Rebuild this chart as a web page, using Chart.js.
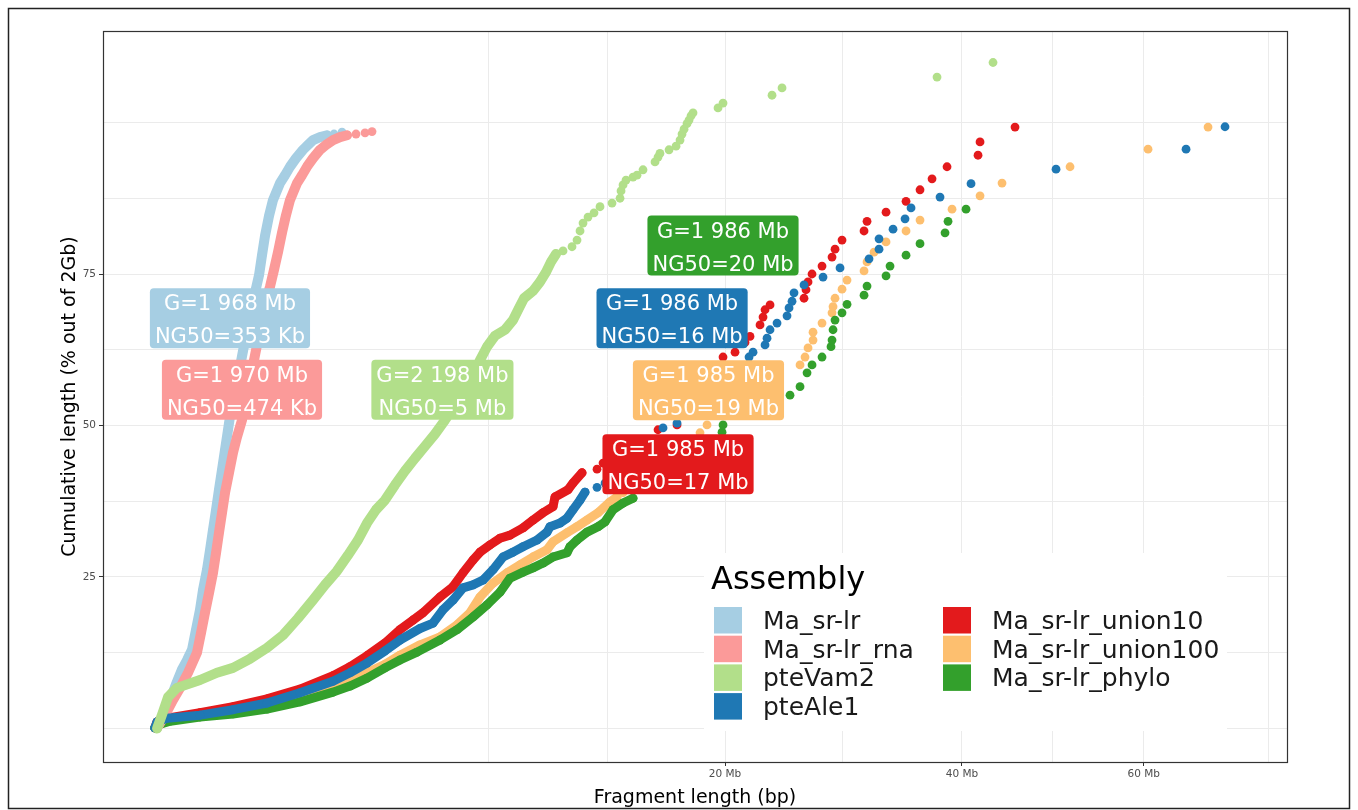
<!DOCTYPE html>
<html>
<head>
<meta charset="utf-8">
<title>Cumulative length by fragment length</title>
<script src="https://cdn.jsdelivr.net/npm/chart.js@4.4.1/dist/chart.umd.min.js"></script>
<style>
  html, body { margin: 0; padding: 0; background: #fff; }
  #wrap { position: relative; width: 1358px; height: 810px; }
</style>
</head>
<body>
<div id="wrap"><canvas id="cumulChart"></canvas></div>
<script>
// series names / colours, in legend order
const assemblies = ['Ma_sr-lr', 'Ma_sr-lr_rna', 'pteVam2', 'pteAle1', 'Ma_sr-lr_union10', 'Ma_sr-lr_union100', 'Ma_sr-lr_phylo'];
const colours = ['#a6cee3', '#fb9a99', '#b2df8a', '#1f78b4', '#e31a1c', '#fdbf6f', '#33a02c'];

// label text per assembly
const genomeSize = ['1 968 Mb', '1 970 Mb', '2 198 Mb', '1 986 Mb', '1 985 Mb', '1 985 Mb', '1 986 Mb'];
const ng50Text = ['353 Kb', '474 Kb', '5 Mb', '16 Mb', '17 Mb', '19 Mb', '20 Mb'];
// where the labels sit (Mb, % of 2Gb)
const labelMb = [0.362, 0.484, 5.12, 16.47, 16.85, 18.86, 19.86];
const labelPct = [67.7, 55.9, 55.9, 67.7, 43.6, 55.8, 79.7];

// axis breaks
const xTickMb = [20, 40, 60];
const xTickLabels = ['20 Mb', '40 Mb', '60 Mb'];
const xMinorMb = [6.9, 12.6, 29.1, 49.5, 76];
const yTickValues = [25, 50, 75];
const yGridValues = [0, 12.5, 25, 37.5, 50, 62.5, 75, 87.5, 100];

// [fragment length Mb, cumulative %] - dense runs ("Curve") and separate points ("Dots")
const maSrLrCurve = [[0.001,0.1],[0.005,1.7],[0.012,3.4],[0.022,5.5],[0.035,7.7],[0.051,9.7],[0.071,11.3],[0.093,13.0],[0.113,16.3],[0.135,19.6],[0.153,22.9],[0.178,26.2],[0.199,29.5],[0.220,32.8],[0.243,36.1],[0.266,39.4],[0.291,42.7],[0.317,46.0],[0.344,49.3],[0.372,52.6],[0.411,55.0],[0.452,58.8],[0.495,62.3],[0.540,65.6],[0.587,68.7],[0.636,71.9],[0.687,74.8],[0.726,78.1],[0.767,81.3],[0.823,84.6],[0.880,87.2],[0.986,90.0],[1.065,91.3],[1.147,92.7],[1.250,94.1],[1.376,95.5],[1.469,96.3],[1.565,97.1],[1.705,97.6],[1.851,97.9]];
const maSrLrDots = [[2.003,98.1],[2.184,98.4]];

const rnaCurve = [[0.001,0.1],[0.0088,2.2],[0.022,4.4],[0.0446,6.7],[0.075,9.2],[0.118,12.5],[0.141,15.8],[0.165,19.1],[0.192,22.4],[0.220,25.7],[0.243,29.0],[0.266,32.3],[0.291,35.6],[0.317,38.9],[0.353,42.2],[0.391,45.5],[0.431,48.1],[0.484,50.9],[0.529,54.2],[0.575,57.5],[0.624,60.8],[0.674,64.1],[0.726,67.4],[0.781,70.7],[0.837,72.9],[0.895,75.7],[0.955,78.6],[1.017,81.8],[1.081,84.7],[1.147,87.2],[1.268,90.0],[1.357,91.3],[1.450,92.7],[1.565,94.1],[1.705,95.5],[1.830,96.3],[1.981,97.1],[2.138,97.6],[2.301,97.9]];
const rnaDots = [[2.519,98.1],[2.748,98.3],[2.932,98.5]];

const pteVam2Curve = [[0.001,0.0],[0.006,2.7],[0.014,5.2],[0.035,6.7],[0.135,8.0],[0.250,9.2],[0.391,10.0],[0.575,11.5],[0.794,13.3],[1.033,15.4],[1.285,18.2],[1.565,21.2],[1.808,23.7],[2.070,26.0],[2.324,28.6],[2.569,31.1],[2.800,33.9],[3.040,36.1],[3.290,37.7],[3.580,40.2],[3.882,42.5],[4.196,44.6],[4.523,46.6],[4.861,48.6],[5.212,50.9],[5.575,53.4],[5.951,55.9],[6.260,58.3],[6.537,60.8],[6.820,63.0],[7.150,64.8],[7.575,65.8],[7.923,67.4],[8.189,69.4],[8.414,71.0],[8.827,72.2],[9.155,73.7],[9.441,75.3],[9.683,77.0],[9.928,78.3]];
const pteVam2Dots = [[10.276,78.8],[10.732,79.5],[10.990,80.6],[11.146,82.1],[11.303,83.4],[11.567,84.4],[11.889,85.1],[12.214,86.1],[12.879,86.7],[13.332,87.5],[13.39,88.7],[13.504,89.7],[13.677,90.5],[14.084,91.0],[14.320,91.3],[14.677,92.2],[15.405,93.5],[15.590,94.3],[15.71,94.9],[16.277,95.5],[16.721,96.1],[16.978,97.1],[17.107,98.1],[17.237,98.9],[17.431,99.8],[17.563,100.4],[17.694,101.1],[17.826,101.6],[19.514,102.4],[19.861,103.2],[23.423,104.5],[24.186,105.7],[37.574,107.5],[43.134,109.9]];

const pteAle1Curve = [[0.0002,0.1],[0.001,1.1],[0.012,1.7],[0.135,2.2],[0.391,3.1],[0.794,4.2],[1.321,5.9],[1.981,7.8],[2.372,9.2],[2.800,10.8],[3.290,12.8],[3.729,14.6],[4.358,16.5],[4.793,17.4],[5.141,19.6],[5.502,21.2],[5.875,23.2],[6.260,23.7],[6.657,24.5],[7.067,26.2],[7.489,28.3],[7.923,29.1],[8.369,30.0],[9.014,31.1],[9.489,32.4],[9.635,33.3],[10.126,33.9],[10.477,34.7],[10.783,36.1],[11.146,37.7],[11.408,39.0]];
const pteAle1Dots = [[12.051,39.8],[12.490,40.5],[13.619,42.7],[14.498,45.1],[15.222,47.6],[15.900,49.6],[16.785,50.4],[17.628,52.2],[18.627,54.5],[19.653,57.0],[20.706,59.5],[21.715,61.3],[22.007,62.1],[22.896,63.3],[23.046,64.4],[23.272,65.8],[23.803,66.9],[24.572,68.1],[24.727,69.4],[24.961,70.5],[25.117,71.9],[25.907,73.2],[27.442,74.5],[28.852,76.0],[31.339,77.5],[32.220,79.1],[32.220,80.8],[33.476,82.4],[34.570,84.1],[35.123,85.9],[37.862,87.7],[40.904,89.9],[49.846,92.3],[65.232,95.6],[70.249,99.3]];

const union10Curve = [[0.0002,0.1],[0.001,1.1],[0.012,1.7],[0.135,2.6],[0.391,3.6],[0.794,4.9],[1.321,6.5],[1.981,8.7],[2.372,10.2],[2.800,12.0],[3.290,14.1],[3.729,16.3],[4.132,17.9],[4.456,19.1],[5.035,21.7],[5.502,23.4],[5.875,25.7],[6.260,27.8],[6.537,29.1],[6.943,30.3],[7.361,31.4],[7.791,31.9],[8.369,33.1],[8.827,34.4],[9.298,35.6],[9.781,36.6],[9.879,38.2],[10.528,39.4],[10.783,40.5],[11.251,42.2]];
const union10Dots = [[12.051,42.8],[12.379,43.8],[13.332,45.1],[14.498,47.3],[15.590,49.3],[16.785,50.1],[17.760,52.6],[18.627,55.0],[19.308,58.3],[19.861,61.3],[20.706,62.1],[21.424,63.7],[21.787,64.7],[22.523,66.6],[22.747,67.9],[22.896,69.1],[23.272,69.9],[25.907,71.0],[26.066,72.4],[26.227,73.7],[26.548,75.0],[27.360,76.3],[28.183,77.8],[28.433,79.1],[29.020,80.6],[30.903,82.1],[31.164,83.7],[32.845,85.2],[34.662,87.0],[35.962,88.9],[37.097,90.7],[38.539,92.7],[41.607,94.6],[41.809,96.8],[45.422,99.25]];

const union100Curve = [[0.0002,0.1],[0.003,0.7],[0.018,1.4],[0.135,2.1],[0.391,2.7],[0.794,3.7],[1.321,5.0],[1.981,6.9],[2.372,7.8],[2.800,9.2],[3.290,10.6],[3.729,12.1],[4.358,13.8],[5.035,15.1],[5.650,17.1],[6.143,19.1],[6.537,21.7],[7.067,24.0],[7.661,25.7],[8.234,27.0],[8.827,28.3],[9.489,29.5],[9.781,30.8],[10.477,32.3],[10.990,33.3],[11.515,34.4],[12.106,35.6],[12.767,37.4],[13.161,38.2]];
const union100Dots = [[13.504,38.9],[14.498,41.0],[15.405,43.5],[16.339,45.6],[17.301,47.6],[18.291,48.8],[18.762,50.1],[19.653,52.2],[20.706,54.2],[21.787,56.7],[23.5,58.5],[25.590,60.0],[25.987,61.3],[26.227,62.8],[26.629,64.1],[26.629,65.4],[27.360,66.9],[28.183,68.6],[28.267,69.6],[28.433,71.0],[29.020,72.5],[29.443,74.0],[30.903,75.5],[31.164,77.0],[31.778,78.6],[32.845,80.3],[34.662,82.1],[35.962,83.9],[39.026,85.7],[41.809,87.9],[44.063,90.0],[51.404,92.7],[60.521,95.6],[68.040,99.25]];

const phyloCurve = [[0.0002,0.1],[0.003,0.7],[0.018,1.2],[0.135,1.9],[0.391,2.4],[0.794,3.2],[1.321,4.4],[1.981,6.0],[2.372,7.0],[2.800,8.3],[3.290,10.0],[3.729,11.3],[4.260,12.6],[5.035,14.6],[5.650,16.3],[6.260,18.4],[6.820,20.4],[7.361,22.5],[7.791,24.8],[8.369,25.8],[8.827,26.5],[9.298,27.3],[9.781,28.3],[10.477,29.0],[10.630,30.0],[10.990,31.1],[11.515,32.4],[12.106,33.3],[12.490,34.1],[12.935,36.1],[13.504,37.2],[14.084,38.0]];
const phyloDots = [[14.797,39.7],[15.71,41.8],[16.657,44.3],[17.628,46.3],[18.627,47.6],[19.792,48.9],[19.861,50.1],[20.706,52.2],[21.642,53.9],[23.272,54.2],[24.804,55.0],[25.590,56.4],[26.147,58.7],[26.548,60.0],[27.360,61.3],[28.100,63.0],[28.183,64.1],[28.267,65.8],[28.433,67.4],[29.020,68.6],[29.443,70.0],[30.903,71.5],[31.164,73.0],[32.845,74.7],[33.204,76.3],[34.662,78.1],[35.962,80.0],[38.345,81.8],[38.636,83.7],[40.405,85.7]];

const curves = [maSrLrCurve, rnaCurve, pteVam2Curve, pteAle1Curve, union10Curve, union100Curve, phyloCurve];
const dots = [maSrLrDots, rnaDots, pteVam2Dots, pteAle1Dots, union10Dots, union100Dots, phyloDots];
// which series sits on top (lower = drawn later)
const drawOrder = [4, 3, 1, 2, 7, 6, 5];

const FONT = '"DejaVu Sans", "Liberation Sans", Arial, sans-serif';
Chart.defaults.font.family = FONT;

// x is drawn on a square-root scale
const toPoint = p => ({ x: Math.sqrt(p[0]), y: p[1] });

const datasets = assemblies.map((name, i) => {
    const curveLen = curves[i].length;
    return {
        label: name,
        data: curves[i].concat(dots[i]).map(toPoint),
        showLine: true,
        borderColor: colours[i],
        backgroundColor: colours[i],
        borderWidth: i >= 3 ? 9 : 10,
        borderCapStyle: 'round',
        borderJoinStyle: 'round',
        pointRadius: 4.4,
        pointBorderWidth: 0,
        pointBackgroundColor: colours[i],
        order: drawOrder[i],
        segment: {
            // only the dense run is joined up
            borderColor: ctx => ctx.p1DataIndex < curveLen ? colours[i] : 'rgba(0,0,0,0)'
        }
    };
});

function roundRect(ctx, x, y, w, h, r) {
    ctx.beginPath();
    ctx.moveTo(x + r, y);
    ctx.lineTo(x + w - r, y);
    ctx.quadraticCurveTo(x + w, y, x + w, y + r);
    ctx.lineTo(x + w, y + h - r);
    ctx.quadraticCurveTo(x + w, y + h, x + w - r, y + h);
    ctx.lineTo(x + r, y + h);
    ctx.quadraticCurveTo(x, y + h, x, y + h - r);
    ctx.lineTo(x, y + r);
    ctx.quadraticCurveTo(x, y, x + r, y);
    ctx.closePath();
}

const ggDecor = {
    id: 'ggDecor',
    beforeDraw(chart) {
        const ctx = chart.ctx;
        ctx.save();
        ctx.fillStyle = '#fff';
        ctx.fillRect(0, 0, chart.width, chart.height);
        ctx.restore();
    },
    afterDatasetsDraw(chart) {
        const ctx = chart.ctx;
        const area = chart.chartArea;
        const xs = chart.scales.x, ys = chart.scales.y;
        ctx.save();

        // G / NG50 labels
        ctx.font = '21px ' + FONT;
        ctx.textAlign = 'center';
        ctx.textBaseline = 'alphabetic';
        assemblies.forEach((name, i) => {
            const cx = xs.getPixelForValue(Math.sqrt(labelMb[i]));
            const cy = ys.getPixelForValue(labelPct[i]);
            const l1 = 'G=' + genomeSize[i];
            const l2 = 'NG50=' + ng50Text[i];
            const w = Math.max(ctx.measureText(l1).width, ctx.measureText(l2).width) + 10;
            roundRect(ctx, cx - w / 2, cy - 30, w, 60, 4);
            ctx.fillStyle = colours[i];
            ctx.fill();
            ctx.fillStyle = '#fff';
            ctx.fillText(l1, cx, cy - 8);
            ctx.fillText(l2, cx, cy + 25);
        });

        // legend (inside the panel)
        ctx.fillStyle = '#fff';
        ctx.fillRect(704, 553, 523, 178);
        ctx.textAlign = 'left';
        ctx.fillStyle = '#000';
        ctx.font = '32px ' + FONT;
        ctx.fillText('Assembly', 711, 588.5);
        ctx.font = '25px ' + FONT;
        assemblies.forEach((name, i) => {
            const col = i < 4 ? 0 : 1;
            const row = i < 4 ? i : i - 4;
            const keyX = col === 0 ? 714 : 943;
            const textX = col === 0 ? 763 : 992;
            const cy = 620 + row * 28.7;
            ctx.fillStyle = colours[i];
            ctx.fillRect(keyX, cy - 13, 28, 26.5);
            ctx.fillStyle = '#1a1a1a';
            ctx.fillText(name, textX, cy + 9);
        });

        // panel border
        ctx.strokeStyle = '#333';
        ctx.lineWidth = 1.2;
        ctx.strokeRect(area.left + 0.5, area.top + 0.5, area.right - area.left, area.bottom - area.top);

        // axis titles
        ctx.fillStyle = '#000';
        ctx.font = '19px ' + FONT;
        ctx.textAlign = 'center';
        ctx.fillText('Fragment length (bp)', (area.left + area.right) / 2, 803);
        ctx.save();
        ctx.translate(75, (area.top + area.bottom) / 2);
        ctx.rotate(-Math.PI / 2);
        ctx.fillText('Cumulative length (% out of 2Gb)', 0, 0);
        ctx.restore();

        // outer frame
        ctx.strokeStyle = '#222';
        ctx.lineWidth = 1.5;
        ctx.strokeRect(8.5, 8.5, 1341, 800);
        ctx.restore();
    }
};

const ctx = document.getElementById('cumulChart').getContext('2d');
new Chart(ctx, {
    type: 'scatter',
    data: { datasets: datasets },
    options: {
        responsive: true,
        maintainAspectRatio: false,
        animation: false,
        events: [],
        layout: { padding: { top: 31, right: 71, bottom: 0, left: 0 } },
        plugins: {
            legend: { display: false },
            tooltip: { enabled: false }
        },
        scales: {
            x: {
                type: 'linear',
                min: -0.391,
                max: 8.866,
                afterBuildTicks: scale => {
                    scale.ticks = xTickMb.concat(xMinorMb).sort((a, b) => a - b).map(mb => ({ value: Math.sqrt(mb) }));
                },
                afterFit: scale => { scale.height = 48; },
                border: { display: false },
                grid: {
                    color: '#ebebeb',
                    lineWidth: 1,
                    tickLength: 4,
                    tickColor: c => xTickMb.some(mb => Math.abs(Math.sqrt(mb) - c.tick.value) < 1e-6) ? '#333' : 'rgba(0,0,0,0)'
                },
                ticks: {
                    autoSkip: false,
                    maxRotation: 0,
                    minRotation: 0,
                    padding: 2,
                    color: '#4d4d4d',
                    font: { size: 10.5 },
                    callback: value => {
                        const i = xTickMb.findIndex(mb => Math.abs(Math.sqrt(mb) - value) < 1e-6);
                        return i >= 0 ? xTickLabels[i] : '';
                    }
                }
            },
            y: {
                type: 'linear',
                min: -5.53,
                max: 115.1,
                afterBuildTicks: scale => {
                    scale.ticks = yGridValues.map(v => ({ value: v }));
                },
                afterFit: scale => { scale.width = 103; },
                border: { display: false },
                grid: {
                    color: '#ebebeb',
                    lineWidth: 1,
                    tickLength: 4,
                    tickColor: c => yTickValues.includes(c.tick.value) ? '#333' : 'rgba(0,0,0,0)'
                },
                ticks: {
                    autoSkip: false,
                    padding: 3,
                    color: '#4d4d4d',
                    font: { size: 10.5 },
                    callback: value => yTickValues.includes(value) ? String(value) : ''
                }
            }
        }
    },
    plugins: [ggDecor]
});
</script>
</body>
</html>
